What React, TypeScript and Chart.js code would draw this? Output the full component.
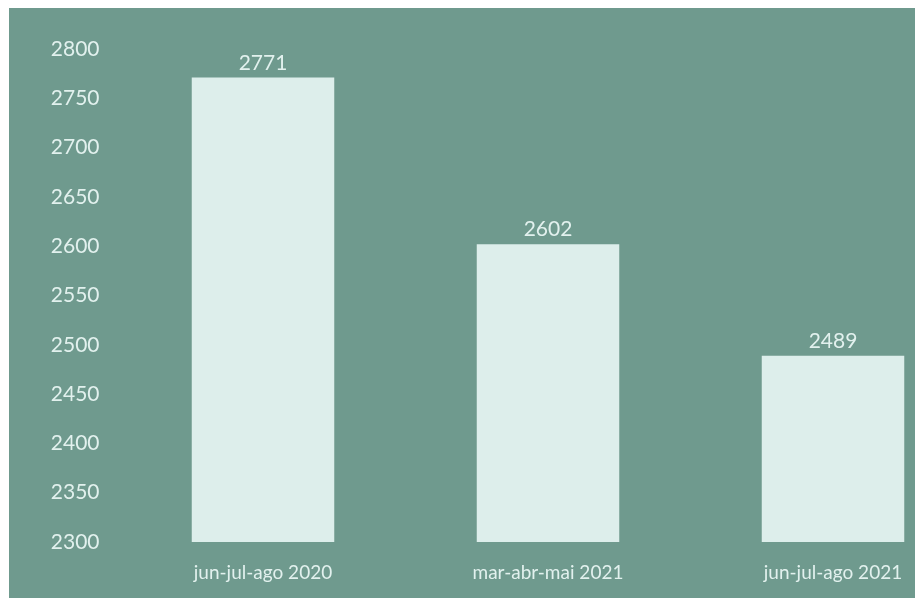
import React, { useEffect, useRef } from "react";
import { Chart, registerables } from "chart.js";

Chart.register(...registerables);

const categories = ["jun-jul-ago 2020", "mar-abr-mai 2021", "jun-jul-ago 2021"];
const values = [2771, 2602, 2489];
const yMin = 2300;
const yMax = 2800;
const yStep = 50;

const BG = "#6f9a8e";
const BAR = "#ddeeeb";
const TEXT = "#e2f1ee";
const FONT = "Lato, 'Open Sans', sans-serif";

const valueLabels = {
  id: "valueLabels",
  afterDatasetsDraw(chart: any) {
    const ctx = chart.ctx;
    const meta = chart.getDatasetMeta(0);
    ctx.save();
    ctx.fillStyle = TEXT;
    ctx.font = `21px ${FONT}`;
    ctx.textAlign = "center";
    ctx.textBaseline = "alphabetic";
    meta.data.forEach((el: any, i: number) => {
      ctx.fillText(String(chart.data.datasets[0].data[i]), el.x, el.y - 8);
    });
    ctx.restore();
  },
};

export default function App() {
  const ref = useRef<HTMLCanvasElement | null>(null);
  useEffect(() => {
    if (!ref.current) return;
    const chart = new Chart(ref.current, {
      type: "bar",
      data: {
        labels: categories,
        datasets: [
          {
            data: values,
            backgroundColor: BAR,
            borderWidth: 0,
            barPercentage: 0.5,
            categoryPercentage: 1,
          },
        ],
      },
      options: {
        responsive: false,
        animation: false,
        layout: { padding: { top: 41, right: 33.5, bottom: 0, left: 0 } },
        plugins: { legend: { display: false }, tooltip: { enabled: false } },
        scales: {
          x: {
            grid: { display: false, drawTicks: false },
            border: { display: false },
            ticks: {
              color: TEXT,
              font: { family: FONT, size: 19 },
              padding: 19,
              maxRotation: 0,
            },
            afterFit: (s: any) => {
              s.height = 55;
            },
          },
          y: {
            min: yMin,
            max: yMax,
            grid: { display: false, drawTicks: false },
            border: { display: false },
            ticks: {
              stepSize: yStep,
              color: TEXT,
              font: { family: FONT, size: 21 },
              padding: 21,
              callback: (v: any) => String(v),
            },
            afterFit: (s: any) => {
              s.width = 111.5;
            },
          },
        },
      },
      plugins: [valueLabels],
    });
    return () => chart.destroy();
  }, []);
  return (
    <div
      style={{
        position: "fixed",
        left: 9,
        top: 8,
        width: 906,
        height: 590,
        overflow: "hidden",
        background: BG,
      }}
    >
      <canvas
        ref={ref}
        width={1000}
        height={589}
        style={{ position: "absolute", left: 0, top: 0, width: 1000, height: 589 }}
      />
    </div>
  );
}
